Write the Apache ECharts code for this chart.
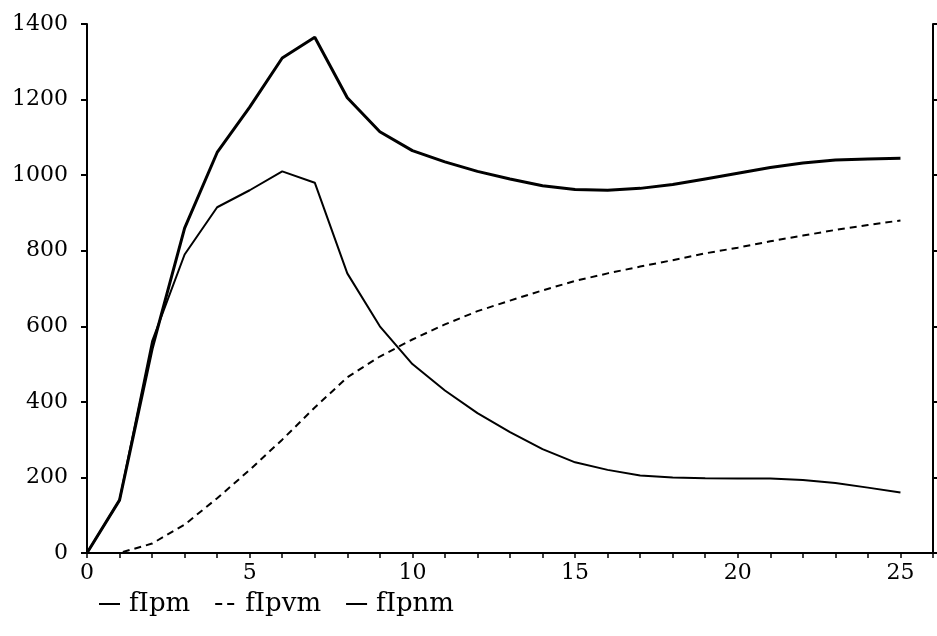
<!DOCTYPE html>
<html>
<head>
  <meta charset="UTF-8">
  <title>fIpm / fIpvm / fIpnm</title>
  <style>
    html, body { margin: 0; padding: 0; background: #fff; }
    #chart { width: 937px; height: 636px; }
  </style>
  <script src="https://cdn.jsdelivr.net/npm/echarts@6/dist/echarts.min.js"></script>
</head>
<body>
  <div id="chart"></div>
  <script>
    // x values (time steps)
    var steps = [0, 1, 2, 3, 4, 5, 6, 7, 8, 9, 10, 11, 12, 13, 14, 15, 16, 17, 18, 19, 20, 21, 22, 23, 24, 25];
    var fIpm = [0, 140, 540, 860, 1060, 1180, 1310, 1365, 1205, 1115, 1065, 1035, 1010, 990, 972, 962, 960, 965, 975, 990, 1005, 1020, 1032, 1040, 1043, 1045];
    var fIpvm = [0, 0, 25, 75, 145, 220, 300, 385, 465, 520, 565, 605, 640, 668, 695, 720, 740, 758, 775, 793, 808, 825, 840, 855, 868, 880];
    var fIpnm = [0, 140, 560, 790, 915, 960, 1010, 980, 740, 600, 500, 430, 370, 320, 275, 240, 220, 205, 200, 198, 197, 197, 193, 185, 173, 160];

    var font = 'DejaVu Serif';

    function pairs(vals) {
      var res = [];
      for (var i = 0; i < steps.length; i++) {
        res.push([steps[i], vals[i]]);
      }
      return res;
    }

    var myChart = echarts.init(document.getElementById('chart'));

    var yAxisBase = {
      type: 'value',
      min: 0,
      max: 1400,
      interval: 200,
      splitLine: { show: false },
      axisLine: { show: true, lineStyle: { color: '#000', width: 2 } },
      axisTick: { show: true, length: 6, lineStyle: { color: '#000', width: 2 } }
    };

    var option = {
      backgroundColor: '#fff',
      animation: false,
      grid: { left: 87, right: 4, top: 24, bottom: 83 },
      legend: {
        left: 93,
        top: 586,
        itemWidth: 21,
        itemHeight: 10,
        itemGap: 24,
        itemStyle: { opacity: 0 },
        textStyle: { fontFamily: font, fontSize: 26, color: '#000', padding: [0, 0, 0, 4] },
        data: ['fIpm', 'fIpvm', 'fIpnm']
      },
      xAxis: {
        type: 'value',
        min: 0,
        max: 26,
        interval: 1,
        splitLine: { show: false },
        axisLine: { show: true, onZero: false, lineStyle: { color: '#000', width: 2 } },
        axisTick: { show: true, length: 5, lineStyle: { color: '#000', width: 1.5 } },
        axisLabel: {
          margin: 9,
          color: '#000',
          fontFamily: font,
          fontSize: 22,
          formatter: function (v) { return v % 5 === 0 ? String(v) : ''; }
        }
      },
      yAxis: [
        Object.assign({}, yAxisBase, {
          position: 'left',
          axisLabel: {
            margin: 19, color: '#000', fontFamily: font, fontSize: 22,
            formatter: function (v) { return String(v); }
          }
        }),
        Object.assign({}, yAxisBase, {
          position: 'right',
          axisLabel: { show: false }
        })
      ],
      series: [
        {
          name: 'fIpm',
          type: 'line',
          data: pairs(fIpm),
          symbol: 'none',
          lineStyle: { color: '#000', width: 3 },
          itemStyle: { color: '#000' }
        },
        {
          name: 'fIpvm',
          type: 'line',
          data: pairs(fIpvm),
          symbol: 'none',
          lineStyle: { color: '#000', width: 2, type: [7, 5] },
          itemStyle: { color: '#000' }
        },
        {
          name: 'fIpnm',
          type: 'line',
          data: pairs(fIpnm),
          symbol: 'none',
          lineStyle: { color: '#000', width: 2 },
          itemStyle: { color: '#000' }
        }
      ]
    };

    myChart.setOption(option);
  </script>
</body>
</html>
